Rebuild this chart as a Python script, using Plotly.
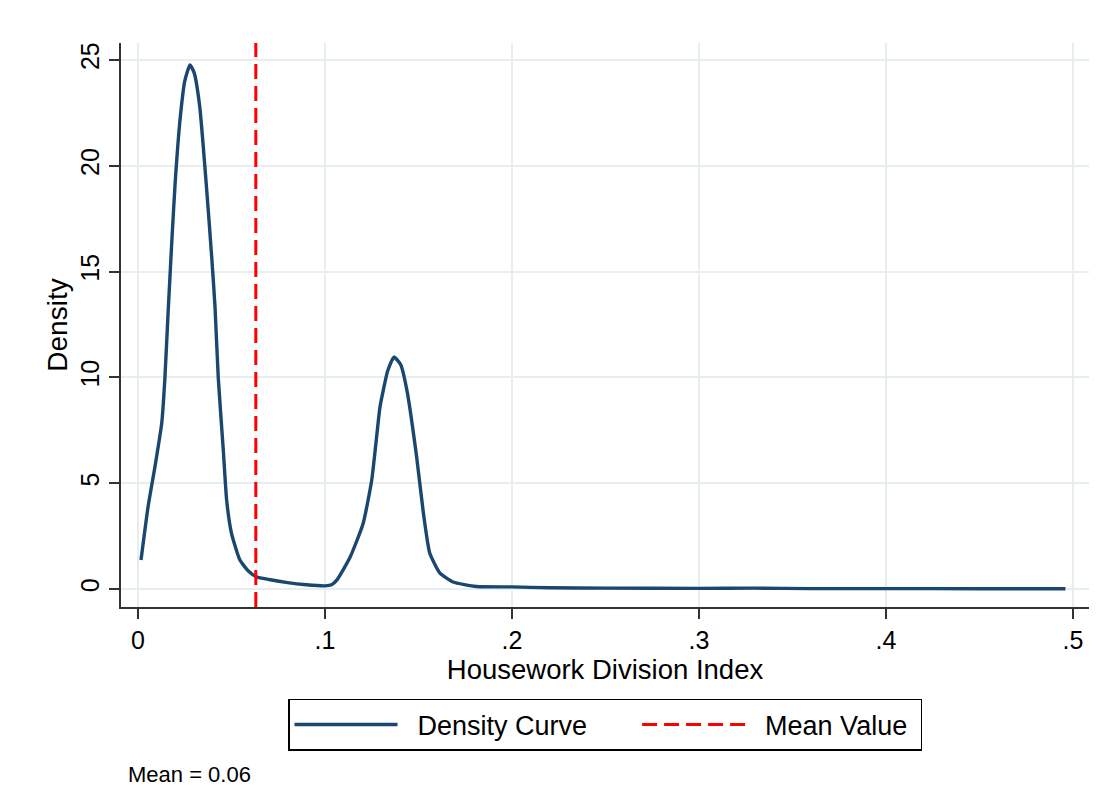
import plotly.graph_objects as go

# Density curve
density_x = [0.0016, 0.0054, 0.0091, 0.0127, 0.0144, 0.016, 0.018, 0.0198, 0.0225, 0.0250,
             0.0278, 0.030, 0.033, 0.0367, 0.0394, 0.0412, 0.0429, 0.0456, 0.0474, 0.050,
             0.0545, 0.0590, 0.0635, 0.070, 0.080, 0.090, 0.100, 0.1035, 0.1064, 0.1134,
             0.1204, 0.125, 0.1294, 0.1312, 0.1335, 0.1369, 0.1405, 0.1438, 0.149, 0.1526,
             0.156, 0.1615, 0.1685, 0.181, 0.200, 0.220, 0.250, 0.300, 0.330, 0.360,
             0.400, 0.450, 0.496]
density_y = [1.37, 3.9, 5.8, 7.85, 10.0, 12.9, 16.3, 19.1, 22.2, 24.0,
             24.76, 24.4, 22.8, 18.9, 15.7, 13.3, 10.0, 6.57, 4.2, 2.63,
             1.37, 0.85, 0.57, 0.45, 0.30, 0.20, 0.15, 0.20, 0.43, 1.5,
             3.1, 5.15, 8.6, 9.4, 10.3, 10.96, 10.6, 9.4, 6.25, 3.6,
             1.7, 0.75, 0.33, 0.12, 0.10, 0.06, 0.04, 0.03, 0.04, 0.02,
             0.02, 0.015, 0.01]

mean_value = 0.063
mean_label = "Mean = 0.06"

series_names = ["Density Curve", "Mean Value"]

x_ticks = [0, 0.1, 0.2, 0.3, 0.4, 0.5]
x_tick_labels = ["0", ".1", ".2", ".3", ".4", ".5"]
y_ticks = [0, 5, 10, 15, 20, 25]
y_tick_labels = ["0", "5", "10", "15", "20", "25"]

x_range = [-0.0091, 0.5086]
y_range = [-0.85, 25.8]

FONT = "Liberation Sans, Arial, sans-serif"
GRID = "#E6EEF1"
NB = "\u00a0"

fig = go.Figure()
fig.add_trace(go.Scatter(
    x=density_x, y=density_y, mode="lines", name=NB * 2 + series_names[0] + NB * 6,
    line=dict(color="#1A476F", width=3.4, shape="spline", smoothing=0.5),
))
fig.add_trace(go.Scatter(
    x=[mean_value, mean_value], y=y_range, mode="lines", name=NB * 2 + series_names[1] + NB,
    line=dict(color="#FF0000", width=3, dash="15px,7px"),
))

fig.update_layout(
    width=1113, height=787,
    margin=dict(l=121, r=24, t=43, b=180),
    paper_bgcolor="white", plot_bgcolor="white",
    font=dict(family=FONT, size=25, color="black"),
    showlegend=True,
    legend=dict(
        orientation="h", x=0.5, xanchor="center", y=-0.163, yanchor="top",
        bordercolor="black", borderwidth=1.5, bgcolor="white",
        font=dict(family=FONT, size=27, color="black"),
        itemwidth=103,
    ),
    annotations=[dict(
        text=mean_label, xref="paper", yref="paper", x=0.005, y=-0.297,
        xanchor="left", yanchor="middle", showarrow=False,
        font=dict(family=FONT, size=22, color="black"),
    )],
)

fig.update_xaxes(
    range=x_range, tickmode="array", tickvals=x_ticks, ticktext=x_tick_labels,
    showgrid=True, gridcolor=GRID, gridwidth=1.5, zeroline=False,
    showline=True, linecolor="#333333", linewidth=1.5,
    ticks="outside", ticklen=10, tickwidth=1.5, tickcolor="#333333",
    tickfont=dict(size=25),
    title=dict(text="Housework Division Index", font=dict(size=27.5), standoff=4),
)
fig.update_yaxes(
    range=y_range, tickmode="array", tickvals=y_ticks, ticktext=y_tick_labels,
    showgrid=True, gridcolor=GRID, gridwidth=1.5, zeroline=False,
    showline=True, linecolor="#333333", linewidth=1.5,
    ticks="outside", ticklen=10, tickwidth=1.5, tickcolor="#333333",
    tickangle=-90, tickfont=dict(size=25),
    title=dict(text="Density", font=dict(size=28), standoff=0),
)

fig.write_html("out.html", config={"displayModeBar": False},
               post_script="document.body.style.margin='0';")
